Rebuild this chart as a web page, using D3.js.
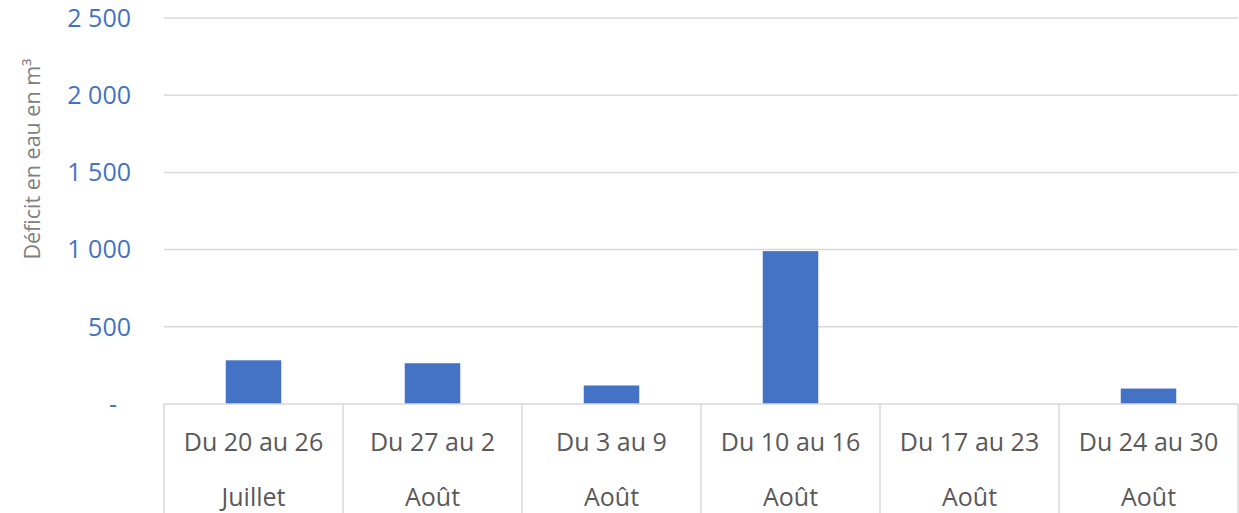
<!DOCTYPE html>
<html>
<head>
<meta charset="utf-8">
<script src="https://cdn.jsdelivr.net/npm/d3@7"></script>
<style>
  body { margin: 0; background: #fff; }
  svg { display: block; font-family: "Open Sans", sans-serif; }
</style>
</head>
<body>
<svg id="chart"></svg>
<script>
// data
var weeks = ["Du 20 au 26", "Du 27 au 2", "Du 3 au 9", "Du 10 au 16", "Du 17 au 23", "Du 24 au 30"];
var months = ["Juillet", "Août", "Août", "Août", "Août", "Août"];
var deficit = [283, 264, 120, 990, 0, 100];
var yTicks = [0, 500, 1000, 1500, 2000, 2500];

var svgWidth = 1239, svgHeight = 513;
var margin = { top: 18, right: 1, bottom: 109, left: 164 };
var width = svgWidth - margin.left - margin.right;
var height = svgHeight - margin.top - margin.bottom;

var svg = d3.select("#chart").attr("width", svgWidth).attr("height", svgHeight);
var g = svg.append("g")
           .attr("transform", "translate(" + margin.left + "," + margin.top + ")");

var x = d3.scaleBand().domain(d3.range(weeks.length)).range([0, width]).paddingInner(0.69).paddingOuter(0.345);
var xBox = d3.scaleBand().domain(d3.range(weeks.length)).range([0, width]);
var y = d3.scaleLinear().domain([0, 2500]).range([height, 0]);

// french thousands: space separator, zero shown as "-" (accounting style)
function fmt(v) {
  if (v === 0) return "-";
  return d3.format(",")(v).replace(/,/g, " ");
}

// gridlines
g.append("g")
 .selectAll("line")
 .data(yTicks.filter(function(d) { return d > 0; }))
 .enter().append("line")
 .attr("x1", 0).attr("x2", width)
 .attr("y1", function(d) { return y(d); })
 .attr("y2", function(d) { return y(d); })
 .attr("stroke", "#d9d9d9")
 .attr("stroke-width", 1.5);

// y tick labels
g.append("g")
 .selectAll("text")
 .data(yTicks)
 .enter().append("text")
 .attr("x", -33)
 .attr("dx", function(d) { return d === 0 ? -14 : 0; })
 .attr("y", function(d) { return y(d); })
 .attr("dy", "0.35em")
 .attr("text-anchor", "end")
 .attr("fill", "#4472c4")
 .attr("font-size", 25)
 .text(fmt);

// axis title
svg.append("text")
   .attr("transform", "translate(40," + (margin.top + 141) + ") rotate(-90)")
   .attr("text-anchor", "middle")
   .attr("fill", "#808080")
   .attr("font-size", 21.5)
   .text("Déficit en eau en m³");

// bars
g.append("g")
 .selectAll("rect")
 .data(deficit)
 .enter().append("rect")
 .attr("x", function(d, i) { return x(i); })
 .attr("width", x.bandwidth())
 .attr("y", function(d) { return y(d); })
 .attr("height", function(d) { return height - y(d); })
 .attr("fill", "#4472c4");

// category axis box
var axisG = g.append("g").attr("stroke", "#d9d9d9").attr("stroke-width", 1.5);
axisG.append("line")
     .attr("x1", 0).attr("x2", width)
     .attr("y1", height).attr("y2", height);
axisG.selectAll(".sep")
     .data(d3.range(weeks.length + 1))
     .enter().append("line")
     .attr("class", "sep")
     .attr("x1", function(i) { return i * xBox.bandwidth(); })
     .attr("x2", function(i) { return i * xBox.bandwidth(); })
     .attr("y1", height).attr("y2", svgHeight);

// category labels (two rows)
var labels = g.append("g")
              .selectAll("g")
              .data(weeks)
              .enter().append("g")
              .attr("transform", function(d, i) { return "translate(" + (xBox(i) + xBox.bandwidth() / 2) + ",0)"; });
labels.append("text")
      .attr("y", height + 47)
      .attr("text-anchor", "middle")
      .attr("fill", "#595959")
      .attr("font-size", 25)
      .text(function(d) { return d; });
labels.append("text")
      .attr("y", height + 102)
      .attr("text-anchor", "middle")
      .attr("fill", "#595959")
      .attr("font-size", 25)
      .text(function(d, i) { return months[i]; });
</script>
</body>
</html>
